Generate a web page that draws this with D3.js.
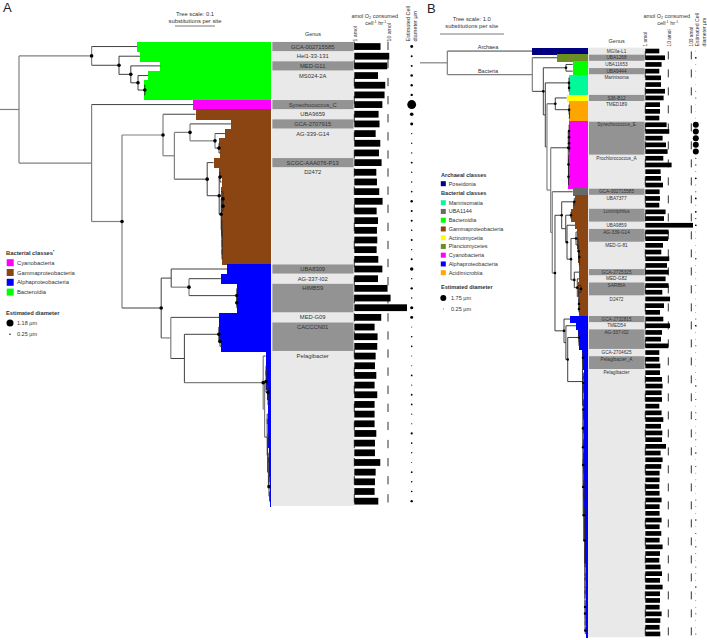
<!DOCTYPE html>
<html>
<head>
<meta charset="utf-8">
<script src="https://d3js.org/d3.v7.min.js"></script>
<style>
  body { margin: 0; background: #fff; }
  text { font-family: "Liberation Sans", Arial, sans-serif; fill: #333; }
</style>
</head>
<body>
<div class="canvas"></div>
<script>
// ---- Panel A data (48 tips) ----
const aRates = [6.0,10.9,9.5,5.05,8.3,7.9,6.8,5.25,5.6,4.3,5.9,5.4,6.45,4.5,4.7,5.5,6.9,4.6,5.05,4.7,4.8,4.6,5.15,6.8,
  5.05,9.7,11.9,36.6,6.3,4.0,4.9,4.8,4.3,4.1,4.5,4.0,4.8,4.0,4.0,4.0,4.5,4.1,4.1,5.9,4.3,4.1,4.0,5.15];
const aDiameters = [.5,.33,.33,.43,.4,.4,1.5,.6,.5,.23,.23,.23,.33,.23,.23,.27,.43,.33,.33,.27,.33,.23,.33,.57,
  .23,.4,.23,.53,.5,.17,.27,.27,.17,.17,.3,.2,.3,.3,.23,.2,.37,.27,.23,.17,.3,.27,.27,.4];
const aTipDepths = [.343,.350,.401,.370,.360,.360,.483,.489,.578,.563,.548,.551,.534,.548,.554,.553,.553,.553,.553,.553,.554,.554,.555,
  .568,.552,.592,.593,.593,.548,.548,.548,.552,.664,.665,.665,.665,.668,.669,.670,.670,.671,.671,.672,.672,.672,.674,.674,.675];
const aGenera = ["GCA-002715585","Hel1-33-131","MED-G11","MS024-2A","Synechococcus_C","UBA9659","GCA-2707915","AG-339-G14",
  "SCGC-AAA076-P13","D2472","UBA8309","AG-337-I02","HIMB59","MED-G09","CACCCN01","Pelagibacter"];
const aGenusRows = [1,1,1,3,1,1,1,3,1,10,1,1,3,1,3,16];
const aClassNames = ["Bacteroidia","Cyanobacteria","Gammaproteobacteria","Alphaproteobacteria"];
const aClassRows = [6,1,16,25];
const aLegend = ["Cyanobacteria","Gammaproteobacteria","Alphaproteobacteria","Bacteroidia"];

// ---- Panel B data (88 tips) ----
const bRates = [4.06,7.19,5.11,4.06,4.81,4.81,7.19,6.25,4.36,4.36,4.06,8.44,11,5.65,7.94,9.33,6.06,13.9,4.63,4.81,5.88,4.19,
  4.36,4.06,7.63,6.5,118.6,10.3,9.7,5.88,4.96,11,8.78,10.3,7.63,10.3,5.49,11.9,6.5,4.36,6.06,11.9,5.32,4.81,10,4.06,4.06,4.49,
  4.36,5.32,5.65,5.11,5.32,4.06,5.11,6.06,4.81,5.49,5.32,7.94,4.63,5.65,4.96,4.19,4.19,4.06,4.19,5.11,4.19,4.19,5.11,4.19,4.96,4.19,
  5.65,4.36,4.06,4.63,5.32,4.36,5.65,4.36,4.36,4.19,5.11,4.49,4.19,4.49];
const bDiameters = [.2,.5,.2,.2,.15,.15,.25,.3,.15,.15,.2,1.75,1.75,1.75,1.75,1.75,.35,.35,.25,.5,.25,.3,.5,.25,.5,.35,.5,
  .2,.2,.2,.2,.4,.2,.2,.2,.25,.2,.2,.25,.2,.3,.5,.2,.2,.3,.2,.2,.2,
  .2,.25,.4,.2,.3,.2,.3,.3,.2,.25,.3,.2,.4,.2,.3,.2,.25,.2,.2,.3,.25,.2,.4,.2,.3,.2,.4,.25,.2,.3,.25,.2,.4,.2,.2,.25,.3,.2,.2,.3];
const bTipDepths = [1.75,2.141,2.386,2.386,2.323,2.323,2.323,2.292,2.333,2.323,2.323,2.328,2.328,2.328,2.328,2.328,2.32,2.32,2.32,2.32,2.32,
  2.386,2.422,2.395,2.359,2.359,2.422,2.448,2.453,2.458,2.473,2.473,2.489,2.489,2.489,2.469,2.469,2.484,2.484,2.484,
  2.344,2.4375,2.473,2.48,2.484,2.536,2.552,2.552,
  2.555,2.555,2.555,2.555,2.555,2.555,2.555,2.555,2.5625,2.5625,2.5625,2.5625,2.5625,2.5625,2.5625,2.57,2.57,2.57,2.57,2.57,2.57,
  2.57,2.578,2.578,2.578,2.578,2.578,2.578,2.578,2.586,2.586,2.586,2.586,2.586,2.586,2.586,2.589,2.589,2.589,2.589];
const bGenera = ["MGIIa-L1","UBA1268","UBA11653","UBA9444","Marinisoma","S36-B12","TMED189","Synechococcus_E","Prochlorococcus_A",
  "GCA-002715585","UBA7377","Luminiphilus","UBA9859","AG-339-G14","MED-G-81","GCA-2725325","MED-G82","SAR86A","D2472",
  "GCA-2732815","TMED54","AG-337-I02","GCA-2704625","Pelagibacter_A","Pelagibacter"];
const bGenusRows = [1,1,1,1,3,1,3,5,5,1,2,2,1,2,4,1,1,2,3,1,1,3,1,2,40];
const bClassNames = ["Poseidonia","Planctomycetes","Bacteroidia","Marinisomatia","Actinomycetia","Acidimicrobiia","Cyanobacteria","UBA1144","Gammaproteobacteria","Alphaproteobacteria"];
const bClassRows = [1,1,2,3,1,3,10,1,18,48];
const bLegend = ["Marinisomatia","UBA1144","Bacteroidia","Gammaproteobacteria","Actinomycetia","Planctomycetes","Cyanobacteria","Alphaproteobacteria","Acidimicrobiia"];

const classColor = d3.scaleOrdinal()
  .domain(["Poseidonia","Marinisomatia","UBA1144","Bacteroidia","Gammaproteobacteria","Actinomycetia","Planctomycetes","Cyanobacteria","Alphaproteobacteria","Acidimicrobiia"])
  .range(["#000080","#00fa9a","#696969","#00ff00","#8b4513","#ffff00","#6b8e23","#ff00ff","#0000ff","#ffa500"]);

// tree helper: depth in substitutions per site, flags d = support dot, g = grey branch, numbers are tip rows
const n = (depth, flags, ...kids) => ({depth, flags, kids: kids.map(k => typeof k === "number" ? {row: k, kids: []} : k)});

// tree A, built clade by clade
const aGreen = n(.229,"dg",0,n(.2975,"d",1,n(.327,"d",2,n(.345,"d",3,n(.362,"d",4,5)))));
const aLowGamma = n(.553,"d",n(.5575,"d",15,n(.5575,"d",16,17)),n(.555,"",18,n(.555,"",19,n(.555,"",20,n(.555,"",21,22)))));
const aGamma = n(.4075,"dg",7,n(.436,"g",n(.475,"dg",8,n(.5375,"dg",9,n(.5475,"d",10,11))),n(.518,"d",12,n(.548,"d",n(.55,"d",13,14),aLowGamma))));
const aPel = n(.658,"dg",32,n(.6615,"g",n(.665,"d",n(.665,"",33,34),n(.67,"d",35,n(.67,"",36,37))),n(.668,"",n(.668,"",38,39),n(.669,"",n(.67,"",40,41),n(.671,"",n(.672,"",42,43),n(.6725,"d",n(.673,"",44,45),n(.674,"",46,47)))))));
const aAlpha = n(.403,"d",n(.428,"",23,n(.4725,"dg",24,n(.592,"d",25,n(.592,"d",26,27)))),n(.427,"g",28,n(.461,"",n(.547,"d",29,n(.55,"d",30,31)),aPel)));
const treeA = n(.0475,"g",aGreen,n(.229,"g",6,n(.305,"dg",aGamma,aAlpha)));

// tree B
const pelTail = n(2.578,"",n(2.58,"",74,75),n(2.578,"",n(2.58,"",76,77),n(2.578,"",n(2.58,"",78,79),n(2.578,"",n(2.58,"",80,81),n(2.58,"d",82,n(2.58,"d",83,n(2.58,"",84,n(2.58,"",85,n(2.583,"d",86,87)))))))));
const pelMid = n(2.55,"d",n(2.555,"",60,n(2.557,"",61,n(2.558,"",62,63))),n(2.558,"d",n(2.56,"",n(2.562,"",64,65),n(2.562,"",66,67)),n(2.57,"d",n(2.572,"",n(2.575,"",68,69),n(2.575,"",70,n(2.577,"",71,n(2.577,"",72,73)))),pelTail)));
const pelB = n(2.54,"",n(2.547,"d",45,n(2.55,"",46,47)),n(2.55,"",n(2.552,"d",n(2.553,"",48,49),n(2.553,"",50,51)),n(2.547,"d",n(2.553,"d",n(2.555,"",52,53),n(2.555,"",54,55)),n(2.548,"d",n(2.555,"",56,57),n(2.55,"d",n(2.555,"",58,59),pelMid)))));
const bG1 = n(2.438,"d",27,n(2.469,"",28,n(2.48,"d",29,n(2.489,"d",30,n(2.49,"",31,32)))));
const bG2 = n(2.411,"d",33,n(2.458,"d",34,n(2.48,"",n(2.516,"d",35,36),n(2.484,"d",37,n(2.484,"d",38,39)))));
const bGamma = n(2.214,"d",n(2.411,"d",22,23),n(2.277,"",n(2.359,"d",24,25),n(2.297,"d",26,n(2.359,"d",bG1,bG2))));
const bAlpha = n(2.25,"d",40,n(2.28,"",41,n(2.308,"d",n(2.484,"d",42,n(2.484,"",43,44)),pelB)));
const bCyan = n(2.317,"d",n(2.33,"d",11,n(2.33,"d",12,n(2.33,"d",13,n(2.33,"d",14,15)))),n(2.32,"d",16,n(2.32,"",17,n(2.32,"d",18,n(2.32,"",19,20)))));
const treeB = n(.427,"g",0,n(1.755,"g",1,n(1.927,"d",n(2.281,"d",2,3),n(1.958,"",n(2.328,"d",4,n(2.33,"d",5,6)),n(1.984,"g",n(2.114,"d",7,n(2.33,"d",8,n(2.336,"",9,10))),n(2.042,"g",bCyan,n(2.067,"g",21,n(2.109,"d",bGamma,bAlpha))))))));

const svg = d3.select(".canvas").append("svg")
  .attr("width", 707)
  .attr("height", 640)
  .style("display", "block");

function label(x, y, txt, size, anchor, weight) {
  return svg.append("text").attr("x", x).attr("y", y).text(txt)
    .attr("font-size", size)
    .attr("text-anchor", anchor || "start")
    .attr("font-weight", weight || "normal");
}

function vertLabel(x, y, txt, size) {
  svg.append("text").attr("transform", `translate(${x},${y}) rotate(-90)`).text(txt).attr("font-size", size);
}

function drawPanel(p) {
  const rows = d3.range(p.rates.length);
  const y = d3.scaleBand().domain(rows).range(p.yRange);
  const rowY = i => y(i) + y.bandwidth() / 2;
  const treeX = d3.scaleLinear().domain([0, p.scaleUnit]).range([p.treeX0, p.treeX0 + p.scalePx]);
  const rateX = d3.scaleLog().domain(p.rateDomain).range(p.rateRange);
  const r = d3.scaleLinear().domain([0, p.diamMax]).range([0, p.rMax]);

  // per-row class from the spans
  const rowClass = [];
  p.classNames.forEach((c, i) => d3.range(p.classRows[i]).forEach(() => rowClass.push(c)));

  // genus background and blocks
  svg.append("rect").attr("x", p.colorRight).attr("y", p.yRange[0])
    .attr("width", p.genusRight - p.colorRight).attr("height", p.yRange[1] - p.yRange[0])
    .attr("fill", "#e9e9e9");
  let start = 0;
  p.genera.forEach((g, i) => {
    const count = p.genusRows[i];
    if (i % 2 === p.greyParity) {
      svg.append("rect").attr("x", p.colorRight + 1).attr("y", y(start) + .3)
        .attr("width", p.genusRight - p.colorRight - 1.5).attr("height", y.step() * count - .6)
        .attr("fill", "#939393");
    }
    label((p.colorRight + p.genusRight) / 2, rowY(start) + p.genusFont * .35, g, p.genusFont, "middle");
    start += count;
  });

  // coloured tip blocks, crisp so that neighbouring rows leave no seam
  svg.append("g").attr("shape-rendering", "crispEdges")
    .selectAll("rect").data(rows).join("rect")
    .attr("x", i => treeX(p.tipDepths[i]))
    .attr("y", i => y(i))
    .attr("width", i => p.colorRight - treeX(p.tipDepths[i]))
    .attr("height", y.step() + .5)
    .attr("fill", i => classColor(rowClass[i]));

  // tree
  const root = d3.hierarchy(p.tree, d => d.kids);
  root.eachAfter(d => {
    if (d.data.row !== undefined) {
      d.py = rowY(d.data.row);
      d.px = treeX(p.tipDepths[d.data.row]);
    } else {
      d.py = (d.children[0].py + d.children[d.children.length - 1].py) / 2;
      d.px = treeX(d.data.depth);
    }
  });
  const isGrey = d => d.data.flags && d.data.flags.includes("g");
  const gTree = svg.append("g").attr("fill", "none");
  gTree.selectAll("path.stem").data(root.descendants()).join("path")
    .attr("class", "stem")
    .attr("d", d => `M${d.parent ? d.parent.px : p.treeX0},${d.py}H${d.px}`)
    .attr("stroke", d => isGrey(d) ? "#808080" : "#2a2a2a")
    .attr("stroke-width", d => isGrey(d) ? 1.2 : .9);
  gTree.selectAll("path.spine").data(root.descendants().filter(d => d.children)).join("path")
    .attr("class", "spine")
    .attr("d", d => `M${d.px},${d.children[0].py}V${d.children[d.children.length - 1].py}`)
    .attr("stroke", d => isGrey(d) ? "#808080" : "#2a2a2a")
    .attr("stroke-width", d => isGrey(d) ? 1.2 : .9);
  svg.append("g").selectAll("circle")
    .data(root.descendants().filter(d => d.data.flags && d.data.flags.includes("d")))
    .join("circle")
    .attr("cx", d => d.px).attr("cy", d => d.py).attr("r", p.nodeR).attr("fill", "#000");

  // dashed reference lines
  p.refRates.forEach(v => {
    svg.append("line").attr("x1", rateX(v)).attr("x2", rateX(v))
      .attr("y1", p.yRange[0]).attr("y2", p.yRange[1])
      .attr("stroke", "#333").attr("stroke-width", 1)
      .attr("stroke-dasharray", p.dash).attr("stroke-dashoffset", p.dashOffset);
  });

  // rate bars
  svg.append("g").selectAll("rect").data(rows).join("rect")
    .attr("x", rateX(1))
    .attr("y", i => rowY(i) - y.bandwidth() * .35)
    .attr("width", i => rateX(p.rates[i]) - rateX(1))
    .attr("height", y.bandwidth() * .7)
    .attr("fill", "#000");

  // cell diameter dots
  svg.append("g").selectAll("circle").data(rows).join("circle")
    .attr("cx", p.dotX).attr("cy", i => rowY(i))
    .attr("r", i => r(p.diameters[i])).attr("fill", "#000");

  // scale bar
  svg.append("line").attr("x1", p.barX).attr("x2", p.barX + p.scalePx)
    .attr("y1", p.barY).attr("y2", p.barY).attr("stroke", "#555").attr("stroke-width", .8);
  return {r};
}

const scalesA = drawPanel({
  rates: aRates, diameters: aDiameters, tipDepths: aTipDepths, genera: aGenera, genusRows: aGenusRows,
  classNames: aClassNames, classRows: aClassRows, tree: treeA, greyParity: 0,
  yRange: [41.7, 506], treeX0: 0, scaleUnit: .1, scalePx: 40, colorRight: 271.4, genusRight: 354,
  rateDomain: [1, 10], rateRange: [354.3, 388], refRates: [1, 10], dash: "8.3 9.8", dashOffset: 0,
  dotX: 411.7, diamMax: 1.18, rMax: 3.5, genusFont: 5.8, nodeR: 1.8, barX: 175, barY: 26
});
const scalesB = drawPanel({
  rates: bRates, diameters: bDiameters, tipDepths: bTipDepths, genera: bGenera, genusRows: bGenusRows,
  classNames: bClassNames, classRows: bClassRows, tree: treeB, greyParity: 1,
  yRange: [47.7, 637.3], treeX0: 420, scaleUnit: 1, scalePx: 64, colorRight: 588, genusRight: 645,
  rateDomain: [1, 100], rateRange: [645.3, 691.3], refRates: [1, 10, 100], dash: "8 10", dashOffset: 14.3,
  dotX: 695.8, diamMax: 1.75, rMax: 3, genusFont: 4.7, nodeR: 1.3, barX: 440, barY: 34
});

// ---- headers ----
label(3, 11.5, "A", 13).style("fill", "#222");
label(427, 12.5, "B", 13).style("fill", "#222");

label(195, 16, "Tree scale: 0.1", 5.8, "middle");
label(195, 23, "substitutions per site", 5.8, "middle");
label(471.7, 21, "Tree scale: 1.0", 5.8, "middle");
label(471.7, 27.5, "substitutions per site", 5.8, "middle");
label(488, 49.3, "Archaea", 5.5, "middle");
label(488, 73.3, "Bacteria", 5.5, "middle");
label(313, 35.5, "Genus", 5.5, "middle");
label(616.7, 42.7, "Genus", 5.5, "middle");

function rateHeader(cx, y1, y2) {
  const t1 = label(cx, y1, "amol O", 5.5, "middle");
  t1.append("tspan").attr("dy", 1.2).attr("font-size", 3.6).text("2");
  t1.append("tspan").attr("dy", -1.2).text(" consumed");
  const t2 = label(cx + 1, y2, "cell", 5.5, "middle");
  t2.append("tspan").attr("dy", -1.6).attr("font-size", 3.6).text("-1");
  t2.append("tspan").attr("dy", 1.6).text(" hr");
  t2.append("tspan").attr("dy", -1.6).attr("font-size", 3.6).text("-1");
}
rateHeader(374.7, 17.5, 24.5);
rateHeader(666.7, 18, 25);

vertLabel(357, 41.5, "1 amol", 5.2);
vertLabel(390.5, 41.5, "10 amol", 5.2);
vertLabel(410, 41.5, "Estimated Cell", 5.5);
vertLabel(417, 41.5, "diameter µm", 5.5);
vertLabel(647, 46.5, "1 amol", 4.8);
vertLabel(670.5, 46.5, "10 amol", 4.8);
vertLabel(692.5, 46.5, "100 amol", 4.8);
vertLabel(698.5, 46.5, "Estimated Cell", 5.2);
vertLabel(705.5, 46.5, "diameter µm", 5.2);

// ---- legends ----
const legA = label(6, 254.5, "Bacterial classes", 5.8, "start", "bold");
legA.append("tspan").attr("dy", -1.5).attr("font-size", 3.5).text("*");
svg.append("g").selectAll("rect").data(aLegend).join("rect")
  .attr("x", 6.7).attr("y", (d, i) => 259.2 + i * 9.8).attr("width", 7).attr("height", 7)
  .attr("fill", d => classColor(d));
aLegend.forEach((d, i) => label(17, 264.8 + i * 9.8, d, 5.8));
label(6, 314.6, "Estimated diameter", 5.8, "start", "bold");
svg.append("circle").attr("cx", 10).attr("cy", 323).attr("r", scalesA.r(1.18)).attr("fill", "#000");
label(17, 325, "1.18 µm", 5.5);
svg.append("circle").attr("cx", 10).attr("cy", 334.3).attr("r", scalesA.r(.25)).attr("fill", "#000");
label(17, 336.3, "0.25 µm", 5.5);

label(441, 176.7, "Archaeal classes", 5.6, "start", "bold");
svg.append("rect").attr("x", 440.8).attr("y", 181.2).attr("width", 5).attr("height", 5).attr("fill", classColor("Poseidonia"));
label(448.7, 185.7, "Poseidonia", 5.5);
label(441, 195.2, "Bacterial classes", 5.6, "start", "bold");
const legY = d3.scalePoint().domain(bLegend).range([202.7, 272.7]);
svg.append("g").selectAll("rect").data(bLegend).join("rect")
  .attr("x", 440.8).attr("y", d => legY(d) - 2.5).attr("width", 5).attr("height", 5)
  .attr("fill", d => classColor(d));
bLegend.forEach(d => label(448.7, legY(d) + 2, d, 5.5));
label(441, 289.2, "Estimated diameter", 5.6, "start", "bold");
svg.append("circle").attr("cx", 443.3).attr("cy", 298).attr("r", scalesB.r(1.75)).attr("fill", "#000");
label(451, 300, "1.75 µm", 5.5);
svg.append("circle").attr("cx", 443.3).attr("cy", 309).attr("r", scalesB.r(.25)).attr("fill", "#000");
label(451, 311, "0.25 µm", 5.5);
</script>
</body>
</html>
